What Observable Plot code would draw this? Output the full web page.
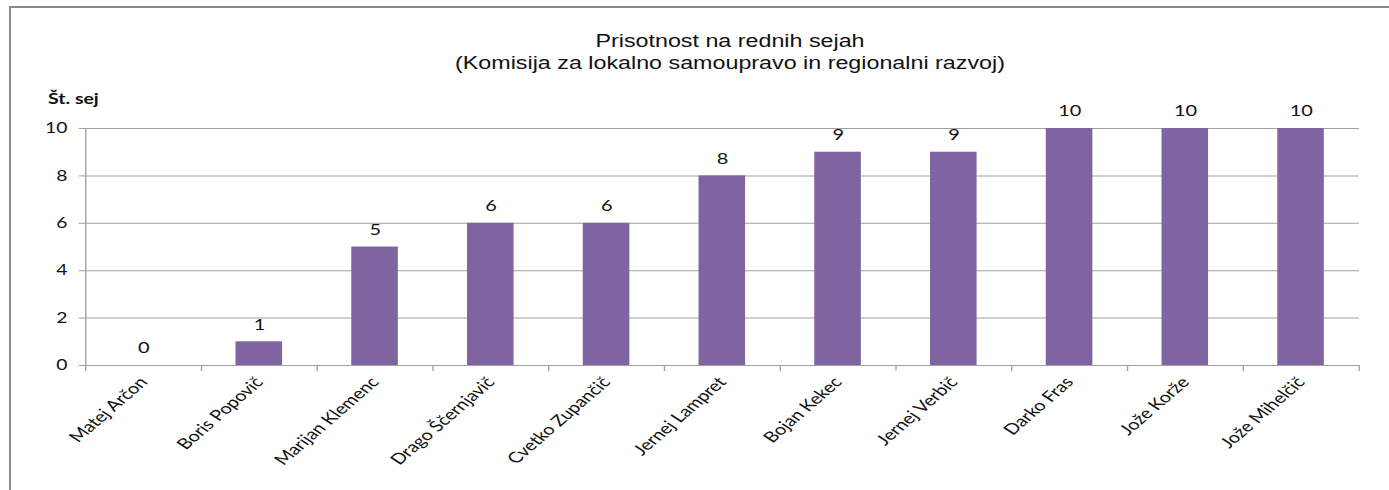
<!DOCTYPE html>
<html>
<head>
<meta charset="utf-8">
<script src="https://cdn.jsdelivr.net/npm/d3@7"></script>
<script src="https://cdn.jsdelivr.net/npm/@observablehq/plot@0.6"></script>
<style>
  html, body { margin: 0; padding: 0; background: #fff; }
  #wrap { position: relative; width: 1389px; height: 490px; overflow: hidden; }
  #frame { position: absolute; left: 9px; top: 6px; width: 1400px; height: 500px; border: 2px solid #8a8a8a; box-sizing: border-box; }
  #title { position: absolute; left: 330px; width: 800px; top: 30px; text-align: center; font-family: "Liberation Sans", Arial, sans-serif; font-size: 17.5px; line-height: 22px; color: #111; transform: scaleX(1.33); transform-origin: 400px 0; }
  #ylab { position: absolute; left: 48px; top: 89px; font-family: Lato, "Open Sans", sans-serif; font-weight: bold; font-size: 15px; color: #111; transform: scaleX(1.3); transform-origin: 0 0; }
  #chart { position: absolute; left: 0; top: 0; }
</style>
</head>
<body>
<div id="wrap">
  <div id="frame"></div>
  <div id="chart"></div>
  <div id="title">Prisotnost na rednih sejah<br>(Komisija za lokalno samoupravo in regionalni razvoj)</div>
  <div id="ylab">Št. sej</div>
</div>
<script>
const names = ["Matej Arčon", "Boris Popovič", "Marijan Klemenc", "Drago Ščernjavič", "Cvetko Zupančič", "Jernej Lampret", "Bojan Kekec", "Jernej Verbič", "Darko Fras", "Jože Korže", "Jože Mihelčič"];
const sessions = [0, 1, 5, 6, 6, 8, 9, 9, 10, 10, 10];
const yTicks = [0, 2, 4, 6, 8, 10];

const data = names.map((n, i) => ({name: n, value: sessions[i]}));

// The reference picture is stretched horizontally; draw in a narrower
// coordinate space and stretch the SVG to the full width.
const SX = 1.3305;
const W = 1389, H = 490;
const IW = W / SX;
const ML = 84 / SX, MR = 30 / SX, MT = 128, MB = 125;
const step = (IW - ML - MR) / names.length;
const font = "Lato, 'Open Sans', sans-serif";

const chart = Plot.plot({
  width: IW, height: H,
  marginLeft: ML, marginRight: MR, marginTop: MT, marginBottom: MB,
  style: {fontFamily: font, fontSize: "14px", color: "#222", background: "transparent"},
  x: {domain: names, type: "band", paddingInner: 0.6, paddingOuter: 0.3, label: null},
  y: {domain: [0, 10], label: null},
  marks: [
    Plot.gridY(yTicks, {stroke: "#a0a0a0", strokeOpacity: 1}),
    Plot.ruleX([names[0]], {dx: -step / 2, stroke: "#a0a0a0"}),
    Plot.ruleX(names, {y1: 0, y2: 0, dx: -step / 2, insetBottom: -6, stroke: "#a0a0a0"}),
    Plot.ruleX([names[names.length - 1]], {y1: 0, y2: 0, dx: step / 2, insetBottom: -6, stroke: "#a0a0a0"}),
    Plot.barY(data, {x: "name", y: "value", fill: "#8064A2"}),
    Plot.text(data, {x: "name", y: "value", text: d => String(d.value), dy: -17, fontSize: 15, fill: "#111"}),
    Plot.axisY(yTicks, {tickSize: 4, tickPadding: 9, stroke: "#a0a0a0", fill: "#111", fontSize: 14.5, label: null}),
    Plot.axisX({tickSize: 0, tickPadding: 14, tickRotate: -49, fill: "#111", fontSize: 15, label: null})
  ]
});
chart.setAttribute("width", W);
chart.setAttribute("height", H);
chart.setAttribute("viewBox", `0 0 ${IW} ${H}`);
chart.setAttribute("preserveAspectRatio", "none");
chart.style.maxWidth = "none";
chart.style.width = W + "px";
chart.style.height = H + "px";
document.getElementById("chart").appendChild(chart);
</script>
</body>
</html>
